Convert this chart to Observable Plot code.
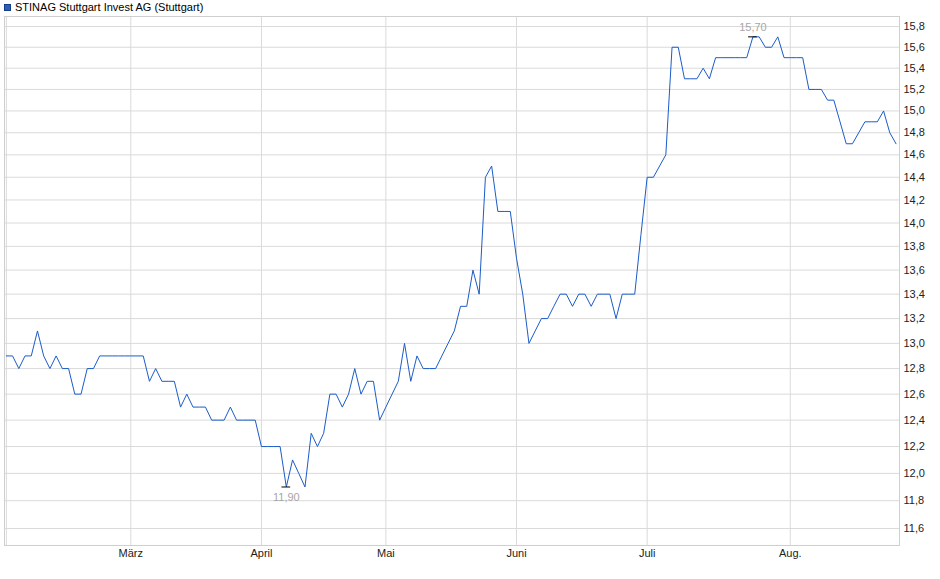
<!DOCTYPE html>
<html>
<head>
<meta charset="utf-8">
<script src="https://cdn.jsdelivr.net/npm/d3@7"></script>
<script src="https://cdn.jsdelivr.net/npm/@observablehq/plot@0.6"></script>
<style>
  html, body { margin: 0; padding: 0; background: #fff; }
  #title { position: relative; height: 14px; font: 11px 'Liberation Sans', Arial, sans-serif; color: #000; }
  #title .sq { position: absolute; left: 4px; top: 4px; width: 5px; height: 5px; background: #2a5fc0; border: 1px solid #163c8c; }
  #title .tx { position: absolute; left: 15px; top: 0px; line-height: 14px; white-space: nowrap; }
  svg { display: block; }
</style>
</head>
<body>
<div id="title"><span class="sq"></span><span class="tx">STINAG Stuttgart Invest AG (Stuttgart)</span></div>
<div id="chart"></div>
<script>
// Daily closing prices (EUR), one array per month of trading days
const feb = [12.9, 12.9, 12.8, 12.9, 12.9, 13.1, 12.9, 12.8, 12.9, 12.8, 12.8, 12.6, 12.6, 12.8, 12.8, 12.9, 12.9, 12.9, 12.9, 12.9];
const mar = [12.9, 12.9, 12.9, 12.7, 12.8, 12.7, 12.7, 12.7, 12.5, 12.6, 12.5, 12.5, 12.5, 12.4, 12.4, 12.4, 12.5, 12.4, 12.4, 12.4, 12.4];
const apr = [12.2, 12.2, 12.2, 12.2, 11.9, 12.1, 12.0, 11.9, 12.3, 12.2, 12.3, 12.6, 12.6, 12.5, 12.6, 12.8, 12.6, 12.7, 12.7, 12.4];
const mai = [12.5, 12.6, 12.7, 13.0, 12.7, 12.9, 12.8, 12.8, 12.8, 12.9, 13.0, 13.1, 13.3, 13.3, 13.6, 13.4, 14.4, 14.5, 14.1, 14.1, 14.1];
const jun = [13.7, 13.4, 13.0, 13.1, 13.2, 13.2, 13.3, 13.4, 13.4, 13.3, 13.4, 13.4, 13.3, 13.4, 13.4, 13.4, 13.2, 13.4, 13.4, 13.4, 13.9];
const jul = [14.4, 14.4, 14.5, 14.6, 15.6, 15.6, 15.3, 15.3, 15.3, 15.4, 15.3, 15.5, 15.5, 15.5, 15.5, 15.5, 15.5, 15.7, 15.7, 15.6, 15.6, 15.7, 15.5];
const aug = [15.5, 15.5, 15.5, 15.2, 15.2, 15.2, 15.1, 15.1, 14.9, 14.7, 14.7, 14.8, 14.9, 14.9, 14.9, 15.0, 14.8, 14.7];

const monthNames = ["", "März", "April", "Mai", "Juni", "Juli", "Aug."];
const yTicks = [11.6, 11.8, 12.0, 12.2, 12.4, 12.6, 12.8, 13.0, 13.2, 13.4, 13.6, 13.8, 14.0, 14.2, 14.4, 14.6, 14.8, 15.0, 15.2, 15.4, 15.6, 15.8];

const months = [feb, mar, apr, mai, jun, jul, aug];
const data = [];
const monthStarts = [];
const labelMap = new Map();
months.forEach((vals, m) => {
  monthStarts.push(data.length);
  labelMap.set(data.length, monthNames[m]);
  vals.forEach(v => data.push({i: data.length, v}));
});
const labelStarts = monthStarts.filter(s => labelMap.get(s) !== "");
const lo = d3.least(data, d => d.v);
const hi = d3.greatest(data, d => d.v);
const fmt1 = d => d.toFixed(1).replace(".", ",");
const fmt2 = d => d.toFixed(2).replace(".", ",");

const chart = Plot.plot({
  width: 940,
  height: 565,
  marginTop: 2,
  marginBottom: 34,
  marginLeft: 4,
  marginRight: 41,
  style: {fontFamily: "'Liberation Sans', Arial, sans-serif", fontSize: "11px", color: "#222", background: "#fff"},
  x: {domain: [-0.3, 143.56]},
  y: {type: "log", domain: [11.479, 15.898]},
  marks: [
    Plot.gridY(yTicks, {stroke: "#dadada", strokeOpacity: 1}),
    Plot.gridX(monthStarts, {stroke: "#dadada", strokeOpacity: 1}),
    Plot.frame({stroke: "#cfcfcf"}),
    Plot.axisY(yTicks, {anchor: "right", tickSize: 0, tickPadding: 4, tickFormat: fmt1, label: null}),
    Plot.axisX(labelStarts, {anchor: "bottom", tickSize: 0, tickPadding: 4, tickFormat: d => labelMap.get(d), label: null}),
    Plot.line(data, {x: "i", y: "v", stroke: "#1b5cc8", strokeWidth: 1}),
    Plot.ruleY([lo, hi], {x1: d => d.i - 0.7, x2: d => d.i + 0.7, y: "v", stroke: "#000", strokeWidth: 1}),
    Plot.text([hi], {x: "i", y: "v", text: d => fmt2(d.v), dy: -9, fill: "#a6a6a6"}),
    Plot.text([lo], {x: "i", y: "v", text: d => fmt2(d.v), dy: 10, fill: "#a6a6a6"})
  ]
});
document.getElementById("chart").appendChild(chart);
</script>
</body>
</html>
